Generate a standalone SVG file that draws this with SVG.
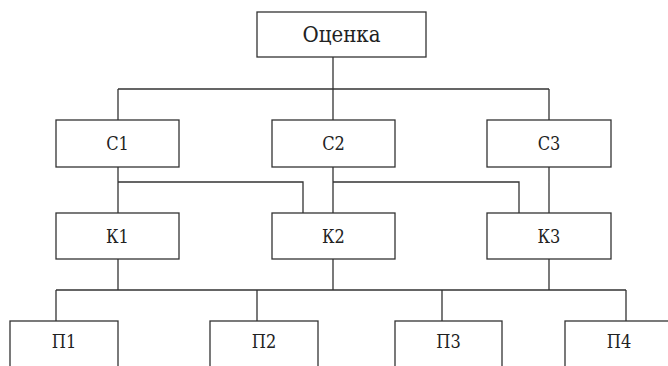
<svg xmlns="http://www.w3.org/2000/svg" width="668" height="366" viewBox="0 0 668 366">
<style>
.box{fill:#fff;stroke:#333;stroke-width:1.3}
.lbl{font-family:"DejaVu Serif Condensed","DejaVu Serif",serif;font-stretch:condensed;font-size:18px;fill:#222;text-anchor:middle}
.big{font-size:22px}
.conn{fill:none;stroke:#333;stroke-width:1.3}
</style>
<rect width="668" height="366" fill="#fff"/>
<g id="connectors" class="conn">
<path d="M333 57V89M118 89H549M118 89V120M333 89V120M549 89V120"/>
<path d="M118 167V213M118 182H303V213M333 167V213M333 182H519V213M549 167V213"/>
<path d="M118 259V290M333 259V290M549 259V290M56 290H626M56 290V321M257 290V321M442 290V321M626 290V321"/>
</g>
<g id="root"><rect class="box" x="257" y="12" width="169" height="45"/><text class="lbl big" x="341.5" y="42">Оценка</text></g>
<g id="c1"><rect class="box" x="56" y="120" width="123" height="47"/><text class="lbl" x="117.5" y="150">С1</text></g>
<g id="c2"><rect class="box" x="272" y="120" width="123" height="47"/><text class="lbl" x="333.5" y="150">С2</text></g>
<g id="c3"><rect class="box" x="487" y="120" width="124" height="47"/><text class="lbl" x="549" y="150">С3</text></g>
<g id="k1"><rect class="box" x="56" y="213" width="123" height="46"/><text class="lbl" x="117.5" y="243">К1</text></g>
<g id="k2"><rect class="box" x="272" y="213" width="123" height="46"/><text class="lbl" x="333.5" y="243">К2</text></g>
<g id="k3"><rect class="box" x="487" y="213" width="124" height="46"/><text class="lbl" x="549" y="243">К3</text></g>
<g id="p1"><rect class="box" x="10" y="321" width="108" height="60"/><text class="lbl" x="64" y="348">П1</text></g>
<g id="p2"><rect class="box" x="210" y="321" width="108" height="60"/><text class="lbl" x="264" y="348">П2</text></g>
<g id="p3"><rect class="box" x="395" y="321" width="107" height="60"/><text class="lbl" x="448.5" y="348">П3</text></g>
<g id="p4"><rect class="box" x="565" y="321" width="108" height="60"/><text class="lbl" x="619" y="348">П4</text></g>
</svg>
